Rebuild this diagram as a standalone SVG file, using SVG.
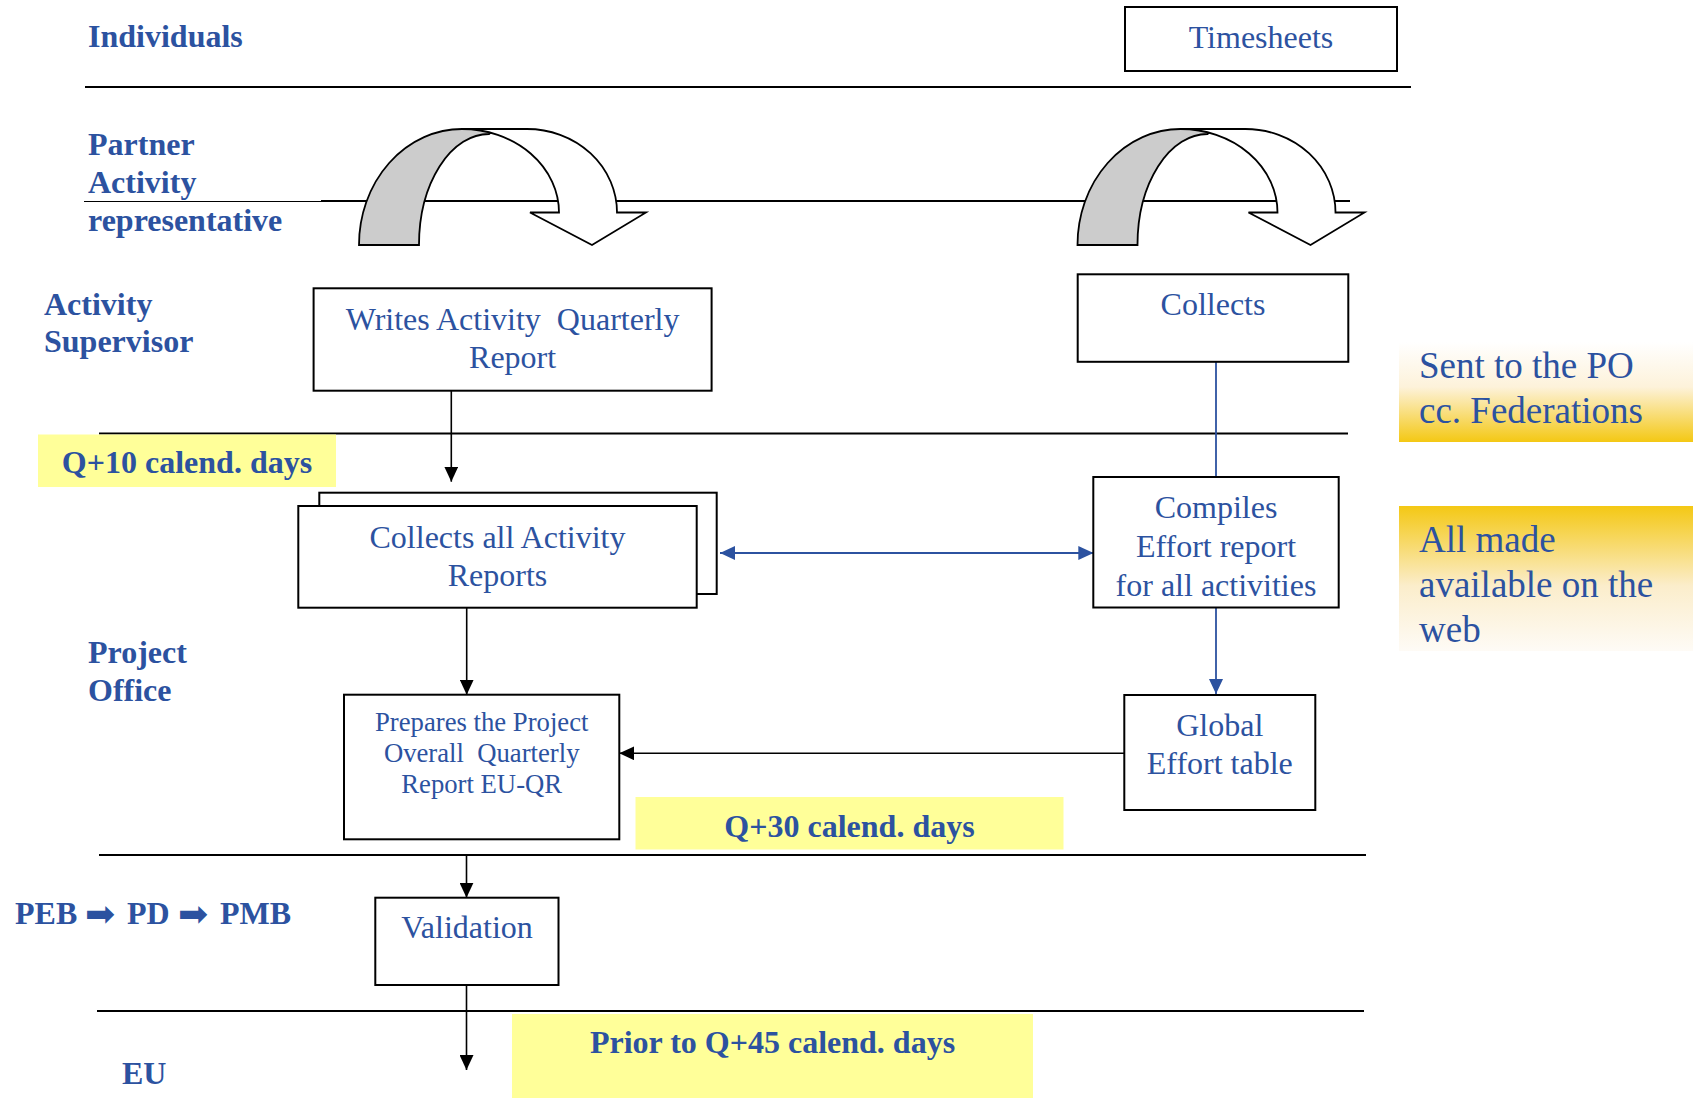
<svg xmlns="http://www.w3.org/2000/svg" width="1693" height="1099" viewBox="0 0 1693 1099">
<defs>
<style>
.lab{font-family:"Liberation Serif","Times New Roman",serif;font-weight:bold;font-size:32px;fill:#2C52A0}
.txt{font-family:"Liberation Serif","Times New Roman",serif;font-size:32px;fill:#2C52A0}
.sm{font-size:26.7px}
.big{font-size:37px}
.box{fill:#fff;stroke:#000;stroke-width:2}
.lane{stroke:#000;stroke-width:2;fill:none}
.yel{fill:#FFFF99}
.conk{stroke:#000;stroke-width:1.6;fill:none}
.conb{stroke:#2C52A0;stroke-width:1.8;fill:none}
.arr{stroke:#000;stroke-width:1.8;stroke-linejoin:miter}
.ga{font-family:"DejaVu Sans",sans-serif;font-size:36px;font-weight:normal}
</style>
<marker id="mk" markerWidth="15" markerHeight="14" refX="15" refY="7" orient="auto-start-reverse" markerUnits="userSpaceOnUse"><path d="M0,0 L15,7 L0,14 Z" fill="#000"/></marker>
<marker id="mb" markerWidth="15" markerHeight="14" refX="15" refY="7" orient="auto-start-reverse" markerUnits="userSpaceOnUse"><path d="M0,0 L15,7 L0,14 Z" fill="#2C52A0"/></marker>
<linearGradient id="g1" x1="0" y1="0" x2="0" y2="1">
<stop offset="0" stop-color="#FFFFFF"/>
<stop offset="0.45" stop-color="#FDF2DA"/>
<stop offset="1" stop-color="#F4C814"/>
</linearGradient>
<linearGradient id="g2" x1="0" y1="0" x2="0" y2="1">
<stop offset="0" stop-color="#F4C814"/>
<stop offset="0.55" stop-color="#FBEDCB"/>
<stop offset="1" stop-color="#FEFBF6"/>
</linearGradient>
</defs>
<rect width="1693" height="1099" fill="#fff"/>

<g id="lanes">
<line class="lane" x1="85" y1="87" x2="1411" y2="87"/>
<line x1="84" y1="201.5" x2="321" y2="201.5" stroke="#000" stroke-width="1.2"/>
<line class="lane" x1="321" y1="201" x2="1350" y2="201"/>
<line class="lane" x1="99" y1="433.5" x2="1348" y2="433.5"/>
<line class="lane" x1="99" y1="855" x2="1366" y2="855"/>
<line class="lane" x1="97" y1="1011" x2="1364" y2="1011"/>
</g>

<g id="lane-labels">
<text class="lab" x="88" y="47">Individuals</text>
<text class="lab" x="88" y="155">Partner</text>
<text class="lab" x="88" y="193">Activity</text>
<text class="lab" x="88" y="231">representative</text>
<text class="lab" x="44" y="315">Activity</text>
<text class="lab" x="44" y="352">Supervisor</text>
<text class="lab" x="88" y="663">Project</text>
<text class="lab" x="88" y="701">Office</text>
<text class="lab" y="924"><tspan x="15">PEB</tspan><tspan class="ga" x="85" y="926">➡</tspan><tspan x="127" y="924">PD</tspan><tspan class="ga" x="178" y="926">➡</tspan><tspan x="220" y="924">PMB</tspan></text>
<text class="lab" x="122" y="1084">EU</text>
</g>

<g id="curved-arrow-1">
<path class="arr" fill="#CCCCCC" d="M359,245 A103,116 0 0 1 462,129 L495,129 L489,134 A70,111 0 0 0 419,245 Z"/>
<path class="arr" fill="#FFFFFF" d="M462,129 L527,129 A90,83.5 0 0 1 617,212.5 L646,212.5 L592,245 L530,212.5 L559,212.5 A97,83.5 0 0 0 462,129 Z"/>
</g>
<g id="curved-arrow-2" transform="translate(718.5,0)">
<path class="arr" fill="#CCCCCC" d="M359,245 A103,116 0 0 1 462,129 L495,129 L489,134 A70,111 0 0 0 419,245 Z"/>
<path class="arr" fill="#FFFFFF" d="M462,129 L527,129 A90,83.5 0 0 1 617,212.5 L646,212.5 L592,245 L530,212.5 L559,212.5 A97,83.5 0 0 0 462,129 Z"/>
</g>

<g id="connectors">
<line class="conk" x1="451.3" y1="390.7" x2="451.3" y2="481.7" marker-end="url(#mk)"/>
<line class="conk" x1="466.7" y1="607.7" x2="466.7" y2="694.7" marker-end="url(#mk)"/>
<line class="conb" x1="1216" y1="361.8" x2="1216" y2="477"/>
<line class="conb" x1="720" y1="553" x2="1093.3" y2="553" marker-start="url(#mb)" marker-end="url(#mb)"/>
<line class="conb" x1="1216" y1="607.5" x2="1216" y2="694" marker-end="url(#mb)"/>
<line class="conk" x1="1124.3" y1="753.3" x2="619.3" y2="753.3" marker-end="url(#mk)"/>
<line class="conk" x1="466.5" y1="855" x2="466.5" y2="897.7" marker-end="url(#mk)"/>
<line class="conk" x1="466.5" y1="985" x2="466.5" y2="1070" marker-end="url(#mk)"/>
</g>

<g id="timesheets">
<rect class="box" x="1125" y="7" width="272" height="64"/>
<text class="txt" x="1261" y="48" text-anchor="middle">Timesheets</text>
</g>

<g id="writes-report">
<rect class="box" x="313.6" y="288.3" width="398" height="102.4"/>
<text class="txt" x="512.6" y="330" text-anchor="middle" xml:space="preserve">Writes Activity  Quarterly</text>
<text class="txt" x="512.6" y="368.3" text-anchor="middle">Report</text>
</g>

<g id="collects">
<rect class="box" x="1077.7" y="274.3" width="270.6" height="87.5"/>
<text class="txt" x="1213" y="315.4" text-anchor="middle">Collects</text>
</g>

<g id="collects-all">
<rect class="box" x="319.3" y="492.7" width="397.4" height="101.3"/>
<rect class="box" x="298.3" y="506" width="398.4" height="101.7"/>
<text class="txt" x="497.5" y="548.3" text-anchor="middle">Collects all Activity</text>
<text class="txt" x="497.5" y="586" text-anchor="middle">Reports</text>
</g>

<g id="compiles">
<rect class="box" x="1093.3" y="477" width="245.4" height="130.5"/>
<text class="txt" x="1216" y="518" text-anchor="middle">Compiles</text>
<text class="txt" x="1216" y="557" text-anchor="middle">Effort report</text>
<text class="txt" x="1216" y="595.7" text-anchor="middle">for all activities</text>
</g>

<g id="prepares">
<rect class="box" x="344" y="694.7" width="275.3" height="144.6"/>
<text class="txt sm" x="481.7" y="730.7" text-anchor="middle">Prepares the Project</text>
<text class="txt sm" x="481.7" y="761.7" text-anchor="middle" xml:space="preserve">Overall  Quarterly</text>
<text class="txt sm" x="481.7" y="793.3" text-anchor="middle">Report EU-QR</text>
</g>

<g id="global-effort">
<rect class="box" x="1124.3" y="695" width="191" height="115"/>
<text class="txt" x="1219.8" y="735.7" text-anchor="middle">Global</text>
<text class="txt" x="1219.8" y="774.3" text-anchor="middle">Effort table</text>
</g>

<g id="validation">
<rect class="box" x="375.3" y="897.7" width="183.2" height="87.3"/>
<text class="txt" x="467" y="938.3" text-anchor="middle">Validation</text>
</g>

<g id="q10">
<rect class="yel" x="38" y="434.5" width="298" height="52.5"/>
<text class="lab" x="187" y="473.3" text-anchor="middle">Q+10 calend. days</text>
</g>

<g id="q30">
<rect class="yel" x="635.5" y="797" width="428" height="52.5"/>
<text class="lab" x="849.5" y="836.7" text-anchor="middle">Q+30 calend. days</text>
</g>

<g id="q45">
<rect class="yel" x="512" y="1014" width="521" height="84"/>
<text class="lab" x="772.5" y="1053.3" text-anchor="middle">Prior to Q+45 calend. days</text>
</g>

<g id="sent-po">
<rect x="1399" y="342" width="294" height="100" fill="url(#g1)"/>
<text class="txt big" x="1419" y="378.3">Sent to the PO</text>
<text class="txt big" x="1419" y="422.7">cc. Federations</text>
</g>

<g id="made-available">
<rect x="1399" y="506" width="294" height="145" fill="url(#g2)"/>
<text class="txt big" x="1419" y="551.7">All made</text>
<text class="txt big" x="1419" y="596.7">available on the</text>
<text class="txt big" x="1419" y="641.7">web</text>
</g>
</svg>
